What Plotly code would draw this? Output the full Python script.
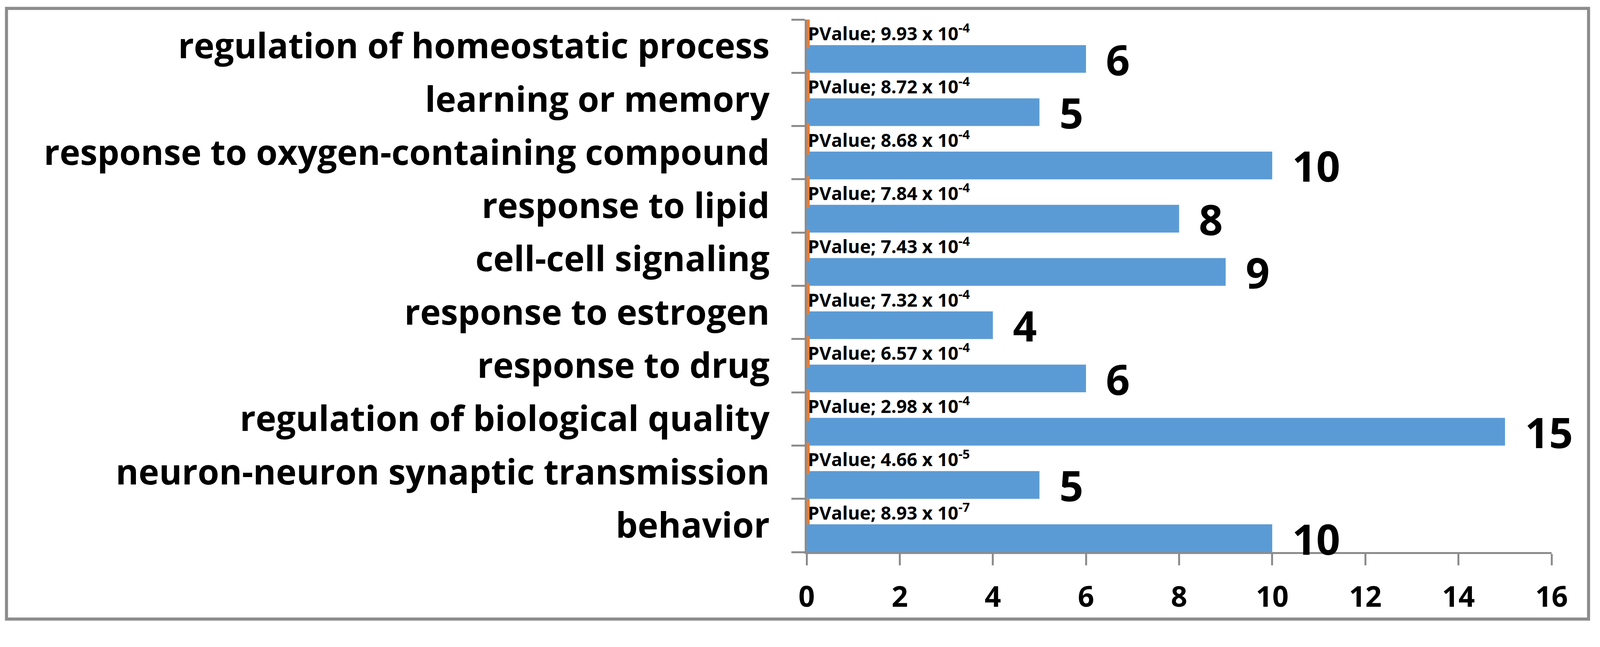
import plotly.graph_objects as go

# ---- data (bottom to top, as drawn on the category axis) ----
categories = [
    "behavior",
    "neuron-neuron synaptic transmission",
    "regulation of biological quality",
    "response to drug",
    "response to estrogen",
    "cell-cell signaling",
    "response to lipid",
    "response to oxygen-containing compound",
    "learning or memory",
    "regulation of homeostatic process",
]
gene_counts = [10, 5, 15, 6, 4, 9, 8, 10, 5, 6]
pvalue_mantissa = [8.93, 4.66, 2.98, 6.57, 7.32, 7.43, 7.84, 8.68, 8.72, 9.93]
pvalue_exponent = [-7, -5, -4, -4, -4, -4, -4, -4, -4, -4]
x_tick_values = [0, 2, 4, 6, 8, 10, 12, 14, 16]

pvalues = [m * 10.0 ** e for m, e in zip(pvalue_mantissa, pvalue_exponent)]
pvalue_labels = [f"PValue; {m:.2f} x 10<sup>{e}</sup>" for m, e in zip(pvalue_mantissa, pvalue_exponent)]

# ---- layout geometry ----
# target positions are given in picture pixels (4193 x 1656); the page is
# rendered ~4096 CSS px wide, so convert with MAG, and remove the 8px body margin.
PIC_W, PIC_H = 4193, 1656
MAG = 4193 / 4096
OFF = 8


def css(v):
    return v / MAG


def icss(v):
    return int(round(v / MAG))


W = icss(PIC_W) - 2 * OFF
H = icss(PIC_H) - 2 * OFF
plot_x0, plot_x1 = icss(2114) - OFF, icss(4066) - OFF
plot_y0, plot_y1 = icss(51) - OFF, icss(1446) - OFF
L, R, T, B = plot_x0, W - plot_x1, plot_y0, H - plot_y1
plot_w = plot_x1 - plot_x0
plot_h = plot_y1 - plot_y0
slot_h = plot_h / len(categories)

BLUE = "#5B9BD5"
ORANGE = "#ED7D31"
GRAY = "#8C8C8C"
FONT = "Open Sans"


def px_to_paper_x(px):
    return (css(px) - OFF - L) / plot_w


def px_to_paper_y(py):
    return (plot_y1 - (css(py) - OFF)) / plot_h


fig = go.Figure()

fig.add_trace(go.Bar(
    y=categories,
    x=gene_counts,
    orientation="h",
    name="Count",
    offset=-0.5, width=0.52,
    marker=dict(color=BLUE, line=dict(width=0)),
    hoverinfo="skip",
))

fig.add_trace(go.Bar(
    y=categories,
    x=pvalues,
    orientation="h",
    name="PValue",
    offset=0.02, width=0.48,
    marker=dict(color=ORANGE, line=dict(color=ORANGE, width=css(16))),
    text=pvalue_labels,
    textposition="outside",
    constraintext="none",
    cliponaxis=True,
    textfont=dict(family=FONT, size=css(48), color="#000000", weight=700),
    hoverinfo="skip",
))

# value labels at the end of the count bars
for cat, val in zip(categories, gene_counts):
    fig.add_annotation(
        x=val, y=cat, xref="x", yref="y",
        text=str(val), showarrow=False,
        xanchor="left", yanchor="middle",
        xshift=css(50), yshift=-slot_h * 0.24,
        font=dict(family=FONT, size=css(110), color="#000000", weight=700),
    )

# outer chart border
fig.add_shape(
    type="rect", xref="paper", yref="paper",
    x0=px_to_paper_x(17), x1=px_to_paper_x(4163),
    y0=px_to_paper_y(1622), y1=px_to_paper_y(22),
    line=dict(color=GRAY, width=css(8)),
    fillcolor="rgba(0,0,0,0)",
    layer="below",
)

fig.update_layout(
    width=W, height=H,
    margin=dict(l=L, r=R, t=T, b=B, pad=0),
    barmode="overlay",
    showlegend=False,
    paper_bgcolor="white",
    plot_bgcolor="white",
    font=dict(family=FONT, color="#000000"),
)

fig.update_xaxes(
    range=[0, 16],
    tickvals=x_tick_values,
    ticktext=[str(v) for v in x_tick_values],
    showgrid=False, zeroline=False,
    showline=True, linecolor=GRAY, linewidth=css(5),
    ticks="outside", ticklen=css(30), tickwidth=css(5), tickcolor=GRAY,
    ticklabelstandoff=icss(18),
    tickfont=dict(family=FONT, size=css(75), color="#000000", weight=700),
)

fig.update_yaxes(
    type="category",
    categoryorder="array", categoryarray=categories,
    range=[-0.5, len(categories) - 0.5],
    showgrid=False, zeroline=False,
    showline=True, linecolor=GRAY, linewidth=css(5),
    ticks="outside", ticklen=css(35), tickwidth=css(5), tickcolor=GRAY,
    tickson="boundaries",
    ticklabelstandoff=icss(74),
    tickfont=dict(family=FONT, size=css(91), color="#000000", weight=700),
)

fig.write_html("out.html")
